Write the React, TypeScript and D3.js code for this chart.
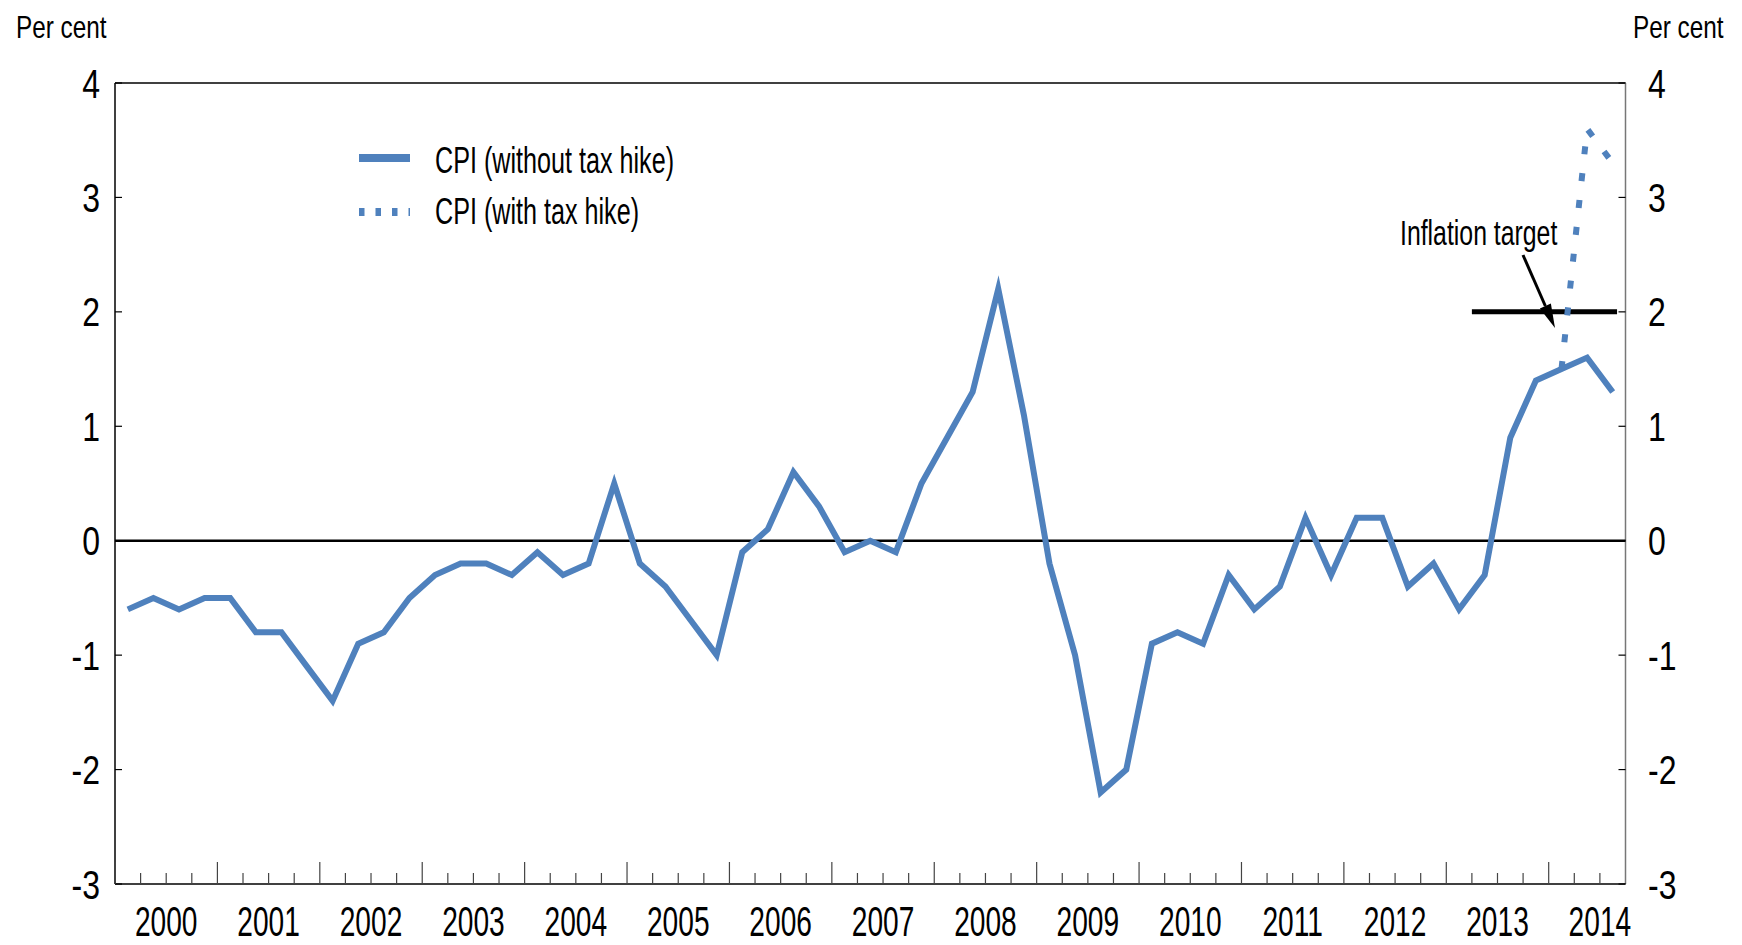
import React from "react";
import * as d3 from "d3";

// quarterly CPI inflation, per cent, 2000Q1 - 2014Q3
const yearLabels = ["2000", "2001", "2002", "2003", "2004", "2005", "2006", "2007", "2008", "2009", "2010", "2011", "2012", "2013", "2014"];
const cpiWithoutTax = [
  -0.6, -0.5, -0.6, -0.5, -0.5, -0.8, -0.8, -1.1, -1.4, -0.9, -0.8, -0.5,
  -0.3, -0.2, -0.2, -0.3, -0.1, -0.3, -0.2, 0.5, -0.2, -0.4, -0.7, -1.0,
  -0.1, 0.1, 0.6, 0.3, -0.1, 0.0, -0.1, 0.5, 0.9, 1.3, 2.2, 1.1,
  -0.2, -1.0, -2.2, -2.0, -0.9, -0.8, -0.9, -0.3, -0.6, -0.4, 0.2, -0.3,
  0.2, 0.2, -0.4, -0.2, -0.6, -0.3, 0.9, 1.4, 1.5, 1.6, 1.3,
];
const taxHikeQuarters = ["2014Q1", "2014Q2", "2014Q3"];
const cpiWithTax = [1.5, 3.6, 3.3];
const yTicks = [-3, -2, -1, 0, 1, 2, 3, 4];
const inflationTarget = 2;
const targetSpan = ["2013Q2", "2014Q3"];

const W = 1742;
const H = 945;
const left = 115;
const right = 1625.5;
const top = 83;
const bottom = 884;
const BLUE = "#4F81BD";
const FONT = "'Liberation Sans', Arial, sans-serif";

const quarters = yearLabels
  .flatMap((y) => ["Q1", "Q2", "Q3", "Q4"].map((q) => y + q))
  .slice(0, cpiWithoutTax.length);

// squeezed text, the original uses a very condensed face
const Txt = ({ x, y, size, anchor = "start", sx = 0.7, children }) => (
  <g transform={`translate(${x},${y}) scale(${sx},1)`}>
    <text x={0} y={0} fontSize={size} fontFamily={FONT} textAnchor={anchor} fill="#000">
      {children}
    </text>
  </g>
);

export default function App() {
  const x = d3.scaleBand().domain(quarters).range([left, right]).paddingInner(0).paddingOuter(0);
  const bw = x.bandwidth();
  const cx = (q) => x(q) + bw / 2;
  const y = d3.scaleLinear().domain([-3, 4]).range([bottom, top]);

  const line = d3
    .line()
    .x((d) => cx(d[0]))
    .y((d) => y(d[1]));

  const solidPath = line(quarters.map((q, i) => [q, cpiWithoutTax[i]]));
  const taxPath = line(taxHikeQuarters.map((q, i) => [q, cpiWithTax[i]]));

  // arrow from label to target line
  const ax1 = 1523, ay1 = 255, ax2 = 1555, ay2 = 328;
  const ang = Math.atan2(ay2 - ay1, ax2 - ax1);
  const headLen = 24, headW = 6;
  const bx = ax2 - headLen * Math.cos(ang);
  const by = ay2 - headLen * Math.sin(ang);
  const head = [
    [ax2, ay2],
    [bx + headW * Math.sin(ang), by - headW * Math.cos(ang)],
    [bx - headW * Math.sin(ang), by + headW * Math.cos(ang)],
  ];

  return (
    <svg
      width={W}
      height={H}
      style={{ position: "absolute", left: 0, top: 0, background: "#fff" }}
    >
      {/* frame */}
      <line x1={left} x2={right} y1={top} y2={top} stroke="#000" strokeWidth={1.5} />
      <line x1={left} x2={left} y1={top} y2={bottom} stroke="#000" strokeWidth={1.5} />
      <line x1={right} x2={right} y1={top} y2={bottom} stroke="#777" strokeWidth={1.5} />
      <line x1={left} x2={right} y1={bottom} y2={bottom} stroke="#000" strokeWidth={1.5} />

      {/* y ticks both sides */}
      {yTicks.map((t) => (
        <g key={t}>
          <line x1={left} x2={left + 7} y1={y(t)} y2={y(t)} stroke="#000" strokeWidth={1.2} />
          <line x1={right - 7} x2={right} y1={y(t)} y2={y(t)} stroke="#000" strokeWidth={1.2} />
          <Txt x={100} y={y(t) + 14.5} size={41} anchor="end" sx={0.78}>
            {t}
          </Txt>
          <Txt x={1648} y={y(t) + 14.5} size={41} sx={0.78}>
            {t}
          </Txt>
        </g>
      ))}

      {/* x ticks at quarter boundaries, longer at year start */}
      {quarters.map((q) => (
        <line
          key={q}
          x1={x(q)}
          x2={x(q)}
          y1={bottom}
          y2={bottom - (q.endsWith("Q1") ? 22 : 11)}
          stroke="#444"
          strokeWidth={1.2}
        />
      ))}
      {yearLabels.map((yr) => (
        <Txt key={yr} x={x(yr + "Q1") + 2 * bw} y={936} size={42} anchor="middle" sx={0.67}>
          {yr}
        </Txt>
      ))}

      <Txt x={16} y={38} size={32} sx={0.76}>Per cent</Txt>
      <Txt x={1633} y={38} size={32} sx={0.76}>Per cent</Txt>

      {/* zero line */}
      <line x1={left} x2={right} y1={y(0)} y2={y(0)} stroke="#000" strokeWidth={2.6} />

      {/* inflation target */}
      <line
        x1={x(targetSpan[0])}
        x2={cx(targetSpan[1]) + bw * 0.17}
        y1={y(inflationTarget)}
        y2={y(inflationTarget)}
        stroke="#000"
        strokeWidth={5}
      />

      <path d={solidPath} fill="none" stroke={BLUE} strokeWidth={6} strokeLinejoin="miter" strokeMiterlimit={10} />
      <path d={taxPath} fill="none" stroke={BLUE} strokeWidth={6} strokeDasharray="8 19" strokeLinejoin="miter" />

      <line x1={ax1} y1={ay1} x2={bx} y2={by} stroke="#000" strokeWidth={3} />
      <polygon points={head.map((p) => p.join(",")).join(" ")} fill="#000" />
      <Txt x={1400} y={245} size={36} sx={0.69}>Inflation target</Txt>

      {/* legend */}
      <line x1={359} x2={410} y1={158} y2={158} stroke={BLUE} strokeWidth={8} />
      <line x1={359} x2={410} y1={212} y2={212} stroke={BLUE} strokeWidth={8} strokeDasharray="5.5 11" />
      <Txt x={435} y={173} size={37} sx={0.68}>CPI (without tax hike)</Txt>
      <Txt x={435} y={224} size={37} sx={0.68}>CPI (with tax hike)</Txt>
    </svg>
  );
}
